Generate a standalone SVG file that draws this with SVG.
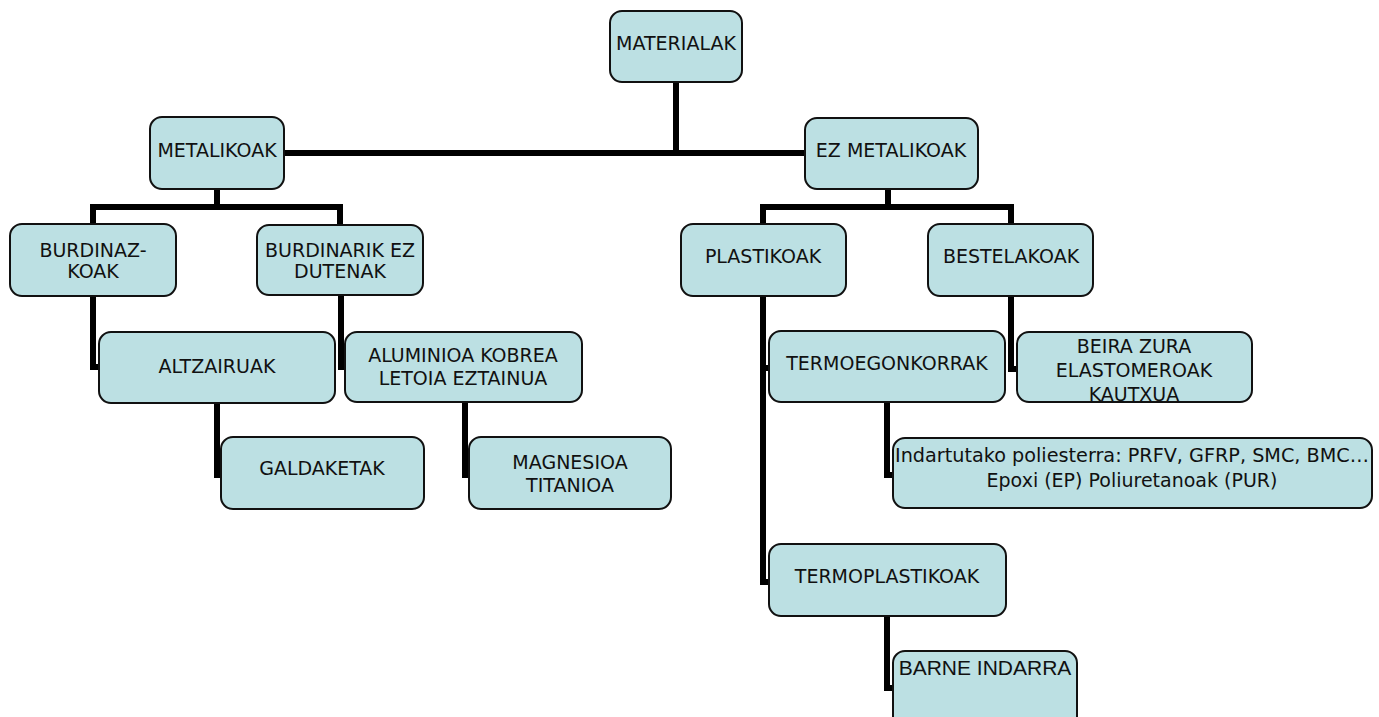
<svg xmlns="http://www.w3.org/2000/svg" width="1379" height="717" viewBox="0 0 1379 717">
<style>
.box{fill:#bce0e3;stroke:#111;stroke-width:2}
.t{font-family:"DejaVu Sans",Verdana,sans-serif;font-size:19px;fill:#111;text-anchor:middle}
.a{font-family:"Liberation Sans",Arial,sans-serif;font-size:21px;fill:#111;text-anchor:middle}
.c{fill:none;stroke:#000;stroke-width:6;stroke-linejoin:miter}
</style>
<defs>
<clipPath id="clipBeira"><rect x="1018" y="333" width="233" height="68"/></clipPath>
</defs>
<rect width="1379" height="717" fill="#fff"/>
<g id="connectors">
<path class="c" d="M676,82 V153"/>
<path class="c" d="M284,153 H805"/>
<path class="c" d="M217,189 V207"/>
<path class="c" d="M93,224 V207 H340 V225"/>
<path class="c" d="M888,189 V207"/>
<path class="c" d="M763,224 V207 H1011 V224"/>
<path class="c" d="M93,296 V367 H99"/>
<path class="c" d="M341,295 V367 H345"/>
<path class="c" d="M217,403 V475 H221"/>
<path class="c" d="M465,402 V475 H469"/>
<path class="c" d="M763,296 V582 H769"/>
<path class="c" d="M763,368 H769"/>
<path class="c" d="M1011,296 V369 H1017"/>
<path class="c" d="M887,402 V475 H893"/>
<path class="c" d="M887,616 V688 H893"/>
</g>
<g id="materialak"><rect class="box" x="610" y="11" width="132" height="71" rx="12"/><text class="t" x="676" y="50">MATERIALAK</text></g>
<g id="metalikoak"><rect class="box" x="150" y="117" width="134" height="72" rx="12"/><text class="t" x="217" y="157">METALIKOAK</text></g>
<g id="ez-metalikoak"><rect class="box" x="805" y="118" width="173" height="71" rx="12"/><text class="t" x="891" y="157">EZ METALIKOAK</text></g>
<g id="burdinazkoak"><rect class="box" x="10" y="224" width="166" height="72" rx="12"/><text class="t" x="93" y="257">BURDINAZ-</text><text class="t" x="93" y="278">KOAK</text></g>
<g id="burdinarik"><rect class="box" x="257" y="225" width="166" height="70" rx="12"/><text class="t" x="340" y="257">BURDINARIK EZ</text><text class="t" x="340" y="278">DUTENAK</text></g>
<g id="plastikoak"><rect class="box" x="681" y="224" width="165" height="72" rx="12"/><text class="t" x="763" y="263">PLASTIKOAK</text></g>
<g id="bestelakoak"><rect class="box" x="928" y="224" width="165" height="72" rx="12"/><text class="t" x="1011" y="263">BESTELAKOAK</text></g>
<g id="altzairuak"><rect class="box" x="99" y="332" width="236" height="71" rx="12"/><text class="t" x="217" y="373">ALTZAIRUAK</text></g>
<g id="aluminioa"><rect class="box" x="345" y="332" width="237" height="70" rx="12"/><text class="t" x="463" y="362">ALUMINIOA KOBREA</text><text class="t" x="463" y="385">LETOIA EZTAINUA</text></g>
<g id="termoegonkorrak"><rect class="box" x="769" y="331" width="236" height="71" rx="12"/><text class="t" x="887" y="370">TERMOEGONKORRAK</text></g>
<g id="beira"><rect class="box" x="1017" y="332" width="235" height="70" rx="12"/><g clip-path="url(#clipBeira)"><text class="t" x="1134" y="353">BEIRA ZURA</text><text class="t" x="1134" y="377">ELASTOMEROAK</text><text class="t" x="1134" y="401">KAUTXUA</text></g></g>
<g id="galdaketak"><rect class="box" x="221" y="437" width="203" height="72" rx="12"/><text class="t" x="322" y="475">GALDAKETAK</text></g>
<g id="magnesioa"><rect class="box" x="469" y="437" width="202" height="72" rx="12"/><text class="t" x="570" y="469">MAGNESIOA</text><text class="t" x="570" y="492">TITANIOA</text></g>
<g id="indartutako"><rect class="box" x="893" y="438" width="479" height="70" rx="12"/><text class="t" x="1132" y="462" textLength="474" lengthAdjust="spacingAndGlyphs">Indartutako poliesterra: PRFV, GFRP, SMC, BMC…</text><text class="t" x="1132" y="487">Epoxi (EP) Poliuretanoak (PUR)</text></g>
<g id="termoplastikoak"><rect class="box" x="769" y="544" width="237" height="72" rx="12"/><text class="t" x="887" y="583">TERMOPLASTIKOAK</text></g>
<g id="barne-indarra"><rect class="box" x="893" y="651" width="184" height="80" rx="12"/><text class="a" x="985" y="675">BARNE INDARRA</text></g>
</svg>
